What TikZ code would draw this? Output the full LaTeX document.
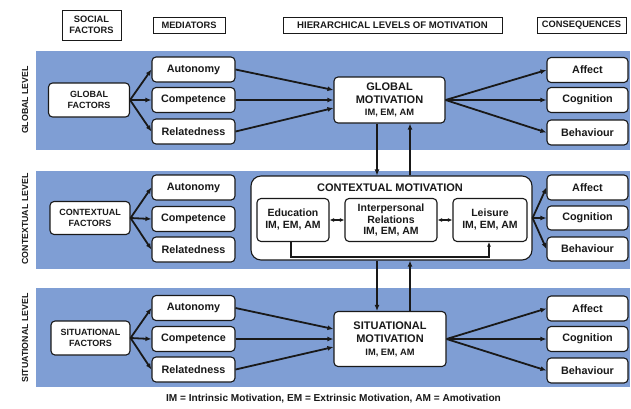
\documentclass[tikz,border=0pt]{standalone}
\usepackage{fontspec}
\setmainfont{Liberation Sans}
\usetikzlibrary{arrows.meta,calc}
\definecolor{bandblue}{RGB}{127,158,212}
\definecolor{ink}{RGB}{25,25,25}
\tikzset{
  band/.style={fill=bandblue,draw=none},
  rbox/.style={draw=ink,fill=white,rounded corners=4pt,line width=1.1pt,align=center,inner sep=0pt,text=ink},
  hbox/.style={draw=ink,line width=0.9pt,align=center,inner sep=0pt,text=ink,font=\fontsize{9.3}{10.5}\selectfont\bfseries},
  med/.style={rbox,minimum width=83pt,minimum height=25pt,font=\fontsize{10.8}{12}\selectfont\bfseries},
  cons/.style={rbox,minimum width=81pt,minimum height=25pt,font=\fontsize{10.8}{12}\selectfont\bfseries},
  fact/.style={rbox,minimum width=81pt,minimum height=34pt,font=\fontsize{9}{11}\selectfont\bfseries},
  motiv/.style={rbox,minimum width=111pt,font=\fontsize{11}{12.5}\selectfont\bfseries},
  inner/.style={rbox,minimum height=43pt,font=\fontsize{10.5}{12}\selectfont\bfseries},
  lvl/.style={rotate=90,text=ink,font=\fontsize{8.8}{10}\selectfont\bfseries},
  arr/.style={draw=ink,line width=1.8pt,-{Latex[length=6pt,width=5pt]}},
  darr/.style={draw=ink,line width=1.3pt,{Latex[length=4.5pt,width=4pt]}-{Latex[length=4.5pt,width=4pt]}},
}
\newcommand{\sm}{\fontsize{9.3}{11}\selectfont}
\begin{document}
\begin{tikzpicture}[x=1pt,y=-1pt]
\useasboundingbox (0,0) rectangle (631,408);
% bands
\fill[band] (36,51) rectangle (630,150);
\fill[band] (36,171) rectangle (630,269);
\fill[band] (36,288) rectangle (630,387);
% headers
\node[hbox,minimum width=59pt,minimum height=30pt] (hsf) at (91.5,25) {SOCIAL\\FACTORS};
\node[hbox,minimum width=72pt,minimum height=16pt] (hmed) at (189,25) {MEDIATORS};
\node[hbox,minimum width=219pt,minimum height=16pt,font=\fontsize{9.6}{10.5}\selectfont\bfseries] (hhl) at (392.5,25) {HIERARCHICAL LEVELS OF MOTIVATION};
\node[hbox,minimum width=89pt,minimum height=16pt] (hcon) at (581.5,25) {CONSEQUENCES};
% level labels
\node[lvl] (lg) at (25,100) {GLOBAL LEVEL};
\node[lvl] (lc) at (25,219) {CONTEXTUAL LEVEL};
\node[lvl] (ls) at (25,338) {SITUATIONAL LEVEL};
% global row
\node[fact] (gf) at (89,100) {GLOBAL\\FACTORS};
\node[med] (ga) at (193.5,69.5) {Autonomy};
\node[med] (gc) at (193.5,100) {Competence};
\node[med] (gr) at (193.5,131.5) {Relatedness};
\node[motiv,minimum height=46pt] (gm) at (389.5,100) {GLOBAL\\MOTIVATION\\{\sm IM, EM, AM}};
\node[cons] (gaf) at (587.5,70) {Affect};
\node[cons] (gco) at (587.5,100) {Cognition};
\node[cons] (gbe) at (587.5,132.5) {Behaviour};
% contextual row
\node[fact,minimum width=80pt,minimum height=33pt] (cf) at (90,218) {CONTEXTUAL\\FACTORS};
\node[med] (ca) at (193.5,187.5) {Autonomy};
\node[med] (cc) at (193.5,219) {Competence};
\node[med] (cr) at (193.5,249.5) {Relatedness};
\node[rbox,rounded corners=10pt,minimum width=281pt,minimum height=84pt] (cm) at (391.5,218) {};
\node[font=\fontsize{11}{12}\selectfont\bfseries,text=ink,inner sep=0pt] (cmt) at (390,188) {CONTEXTUAL MOTIVATION};
\node[inner,minimum width=72pt] (ed) at (293,220) {Education\\{IM, EM, AM}};
\node[inner,minimum width=92pt] (ip) at (391,220) {Interpersonal\\Relations\\{IM, EM, AM}};
\node[inner,minimum width=74pt] (le) at (490,220) {Leisure\\{IM, EM, AM}};
\node[cons] (caf) at (587.5,187.5) {Affect};
\node[cons,minimum height=24pt] (cco) at (587.5,218) {Cognition};
\node[cons,minimum height=24pt] (cbe) at (587.5,249) {Behaviour};
% situational row
\node[fact,minimum width=79pt] (sf) at (90.5,338) {SITUATIONAL\\FACTORS};
\node[med] (sa) at (193.5,308) {Autonomy};
\node[med] (sc) at (193.5,339) {Competence};
\node[med] (sr) at (193.5,369.5) {Relatedness};
\node[motiv,minimum width=112pt,minimum height=55pt,font=\fontsize{11}{13}\selectfont\bfseries] (sm) at (390,339) {SITUATIONAL\\MOTIVATION\\{\sm IM, EM, AM}};
\node[cons] (saf) at (587.5,308.5) {Affect};
\node[cons] (sco) at (587.5,339) {Cognition};
\node[cons] (sbe) at (587.5,370.5) {Behaviour};
% footnote
\node[font=\fontsize{10.1}{11}\selectfont\bfseries,text=ink,inner sep=0pt] (foot) at (333.5,399) {IM = Intrinsic Motivation, EM = Extrinsic Motivation, AM = Amotivation};
% global arrows
\foreach \m in {ga,gc,gr} \draw[arr] (gf.east) -- (\m.west);
\draw[arr] (ga.east) -- ($(gm.west)+(0,-10)$);
\draw[arr] (gc.east) -- (gm.west);
\draw[arr] (gr.east) -- ($(gm.west)+(0,8)$);
\foreach \c in {gaf,gco,gbe} \draw[arr] (gm.east) -- (\c.west);
% contextual arrows
\foreach \m in {ca,cc,cr} \draw[arr] (cf.east) -- (\m.west);
\foreach \c in {caf,cco,cbe} \draw[arr] (cm.east) -- (\c.west);
\draw[darr] (ed.east) -- (ip.west);
\draw[darr] (ip.east) -- (le.west);
\coordinate (xe) at (291,0);
\coordinate (xl) at (489,0);
\coordinate (yb) at (0,257);
\draw[draw=ink,line width=1.3pt,-{Latex[length=4.5pt,width=4pt]}] (ed.south -| xe) -- (xe |- yb) -- (xl |- yb) -- (le.south -| xl);
% situational arrows
\foreach \m in {sa,sc,sr} \draw[arr] (sf.east) -- (\m.west);
\draw[arr] (sa.east) -- ($(sm.west)+(0,-10)$);
\draw[arr] (sc.east) -- (sm.west);
\draw[arr] (sr.east) -- ($(sm.west)+(0,8)$);
\foreach \c in {saf,sco,sbe} \draw[arr] (sm.east) -- (\c.west);
% vertical arrows
\coordinate (xd) at (377,0);
\coordinate (xu) at (410,0);
\draw[arr] (gm.south -| xd) -- (cm.north -| xd);
\draw[arr] (cm.north -| xu) -- (gm.south -| xu);
\draw[arr] (cm.south -| xd) -- (sm.north -| xd);
\draw[arr] (sm.north -| xu) -- (cm.south -| xu);
\end{tikzpicture}
\end{document}
